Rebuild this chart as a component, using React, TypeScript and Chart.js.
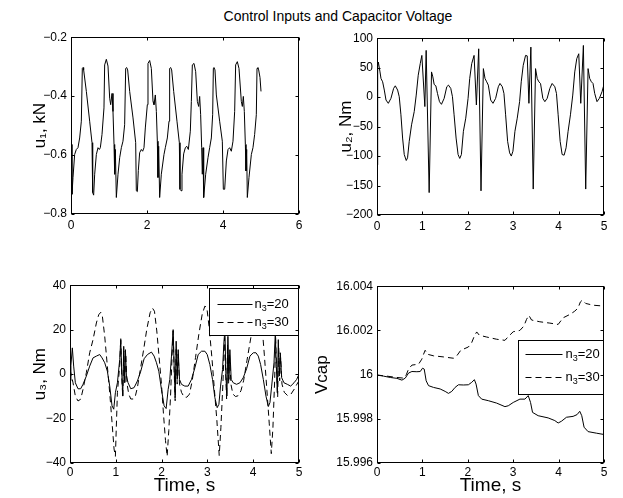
import React, { useEffect, useRef } from "react";
import { Chart, registerables } from "chart.js";

Chart.register(...registerables);

const FONT = '"Liberation Sans", Arial, Helvetica, sans-serif';

// ---------- u1 (kN) ----------
const u1Time = [
  0, 0.026, 0.053, 0.096, 0.14, 0.184, 0.228, 0.272, 0.298, 0.316,
  0.333, 0.404, 0.491, 0.553, 0.57, 0.596, 0.623, 0.667, 0.711, 0.746,
  0.772, 0.816, 0.868, 0.886, 0.93, 0.974, 1.018, 1.044, 1.079, 1.105,
  1.132, 1.149, 1.167, 1.193, 1.237, 1.281, 1.325, 1.368, 1.412, 1.439,
  1.465, 1.491, 1.544, 1.632, 1.702, 1.719, 1.746, 1.772, 1.807, 1.851,
  1.886, 1.921, 1.956, 2.009, 2.026, 2.07, 2.114, 2.158, 2.184, 2.219,
  2.246, 2.272, 2.289, 2.307, 2.333, 2.377, 2.447, 2.482, 2.535, 2.579,
  2.596, 2.623, 2.649, 2.702, 2.789, 2.851, 2.868, 2.895, 2.921, 2.965,
  3.009, 3.044, 3.088, 3.14, 3.167, 3.193, 3.237, 3.281, 3.325, 3.36,
  3.386, 3.412, 3.439, 3.456, 3.474, 3.491, 3.544, 3.605, 3.649, 3.693,
  3.728, 3.746, 3.763, 3.789, 3.825, 3.912, 3.982, 4.009, 4.044, 4.088,
  4.132, 4.175, 4.219, 4.263, 4.307, 4.333, 4.377, 4.421, 4.482, 4.509,
  4.535, 4.561, 4.588, 4.605, 4.623, 4.64, 4.684, 4.746, 4.789, 4.833,
  4.877, 4.895, 4.921, 4.939, 4.974, 5.0,
];
const u1Values = [
  -0.564, -0.733, -0.676, -0.598, -0.581, -0.575, -0.542, -0.485, -0.306, -0.303,
  -0.311, -0.384, -0.485, -0.558, -0.727, -0.736, -0.665, -0.598, -0.575, -0.581,
  -0.575, -0.53, -0.44, -0.294, -0.275, -0.298, -0.407, -0.429, -0.391, -0.452,
  -0.564, -0.665, -0.581, -0.744, -0.665, -0.609, -0.575, -0.553, -0.497, -0.306,
  -0.303, -0.311, -0.384, -0.474, -0.558, -0.721, -0.724, -0.652, -0.592, -0.581,
  -0.587, -0.575, -0.508, -0.429, -0.289, -0.279, -0.306, -0.418, -0.429, -0.396,
  -0.452, -0.553, -0.676, -0.57, -0.744, -0.665, -0.598, -0.575, -0.542, -0.485,
  -0.306, -0.303, -0.311, -0.384, -0.485, -0.558, -0.716, -0.721, -0.665, -0.596,
  -0.575, -0.57, -0.581, -0.519, -0.418, -0.294, -0.289, -0.317, -0.418, -0.435,
  -0.401, -0.463, -0.575, -0.665, -0.575, -0.744, -0.665, -0.609, -0.575, -0.542,
  -0.463, -0.306, -0.303, -0.311, -0.396, -0.485, -0.553, -0.716, -0.716, -0.62,
  -0.581, -0.575, -0.587, -0.553, -0.452, -0.294, -0.283, -0.306, -0.418, -0.435,
  -0.401, -0.452, -0.564, -0.654, -0.581, -0.744, -0.676, -0.598, -0.575, -0.53,
  -0.463, -0.306, -0.303, -0.311, -0.337, -0.384,
];

// ---------- u2 (Nm) ----------
const u2Time = [
  0, 0.015, 0.029, 0.066, 0.088, 0.124, 0.161, 0.198, 0.249, 0.307,
  0.366, 0.403, 0.454, 0.49, 0.527, 0.564, 0.6, 0.644, 0.673, 0.71,
  0.761, 0.82, 0.864, 0.908, 0.952, 0.988, 1.054, 1.083, 1.149, 1.201,
  1.23, 1.259, 1.296, 1.332, 1.376, 1.42, 1.479, 1.537, 1.574, 1.625,
  1.662, 1.698, 1.742, 1.786, 1.823, 1.859, 1.903, 1.955, 2.006, 2.042,
  2.086, 2.138, 2.189, 2.24, 2.291, 2.343, 2.379, 2.416, 2.452, 2.504,
  2.555, 2.613, 2.672, 2.709, 2.76, 2.796, 2.833, 2.877, 2.921, 2.958,
  2.994, 3.038, 3.089, 3.141, 3.177, 3.221, 3.272, 3.309, 3.346, 3.389,
  3.441, 3.492, 3.529, 3.565, 3.602, 3.653, 3.697, 3.748, 3.807, 3.858,
  3.917, 3.953, 3.99, 4.034, 4.078, 4.122, 4.165, 4.209, 4.261, 4.312,
  4.356, 4.4, 4.444, 4.488, 4.546, 4.597, 4.649, 4.685, 4.722, 4.758,
  4.795, 4.846, 4.898, 4.956, 5.0,
];
const u2Values = [
  -115, 51, 59.6, 42.8, 31.6, 26, 12, -4.9, -10.5, -2.1,
  14.8, 19.2, 12, 0.7, -30, -69.4, -97.4, -107.5, -103, -75,
  -47, -24.5, 3.5, 37.2, 56.8, 70.8, -16, 79.3, -162, 42.8,
  34.4, 21.5, 19.2, 6.3, -7.7, -12.2, -2.1, 17.6, 20.4, 14.8,
  0.7, -30, -69.4, -97.4, -104, -97.4, -58, -35.7, -2.1, 31.6,
  56.8, 70.8, -13.3, 82, -159, 48.4, 31.6, 26, 20.4, -4.9,
  -10.5, -2.1, 17.6, 23.2, 17.6, 6.3, -30, -75, -94.6, -100,
  -91.8, -58, -35.7, -7.7, 26, 54, 70.8, 70, -10.5, 84.9,
  -156, 48.4, 31.6, 26, 23.2, -2.1, -7.7, -2.1, 14.8, 23.2,
  17.6, 6.3, -30, -75, -97.4, -98.5, -86, -58, -30, 3.5,
  42.8, 65.2, 73.6, -10.5, 87.7, -156, 48.4, 31.6, 26, 23.2,
  6.3, -7.7, -2.1, 9.1, 21.5,
];

// ---------- u3 (Nm), n3 = 20 ----------
const u3Time20 = [
  0, 0.02, 0.051, 0.08, 0.117, 0.175, 0.233, 0.284, 0.357, 0.43,
  0.503, 0.576, 0.649, 0.7, 0.758, 0.816, 0.867, 0.918, 0.955, 0.991,
  1.035, 1.086, 1.108, 1.13, 1.152, 1.173, 1.195, 1.21, 1.232, 1.268,
  1.327, 1.399, 1.472, 1.545, 1.618, 1.691, 1.778, 1.837, 1.888, 1.939,
  1.997, 2.055, 2.099, 2.143, 2.179, 2.216, 2.252, 2.274, 2.296, 2.318,
  2.34, 2.362, 2.391, 2.434, 2.507, 2.58, 2.653, 2.726, 2.799, 2.872,
  2.945, 2.996, 3.054, 3.112, 3.163, 3.214, 3.251, 3.287, 3.331, 3.36,
  3.382, 3.404, 3.426, 3.448, 3.469, 3.491, 3.52, 3.564, 3.637, 3.71,
  3.783, 3.856, 3.929, 4.002, 4.06, 4.111, 4.162, 4.221, 4.279, 4.33,
  4.366, 4.403, 4.454, 4.483, 4.505, 4.527, 4.548, 4.57, 4.592, 4.621,
  4.672, 4.745, 4.818, 4.891, 4.949, 5.0,
];
const u3Values20 = [
  -3, 4, 11.8, 3.6, -3.9, -6.6, -6.6, -4.6, -0.9, 3.6,
  7.3, 8.1, 8.8, 7.3, 5.1, 1.3, -5.4, -14.3, -15.8, -8.4,
  -3.9, 6.6, 15.5, 0.6, -9.9, 12.5, -3.9, 11, -0.9, -3.9,
  -6.6, -6.1, -3.1, 1.3, 6.9, 8.8, 9.9, 8.1, 5.1, 1.3,
  -6.9, -14.3, -15.5, -6.9, -2.4, 8.1, 20, 3.6, -10.6, 14.8,
  -2.4, 11, -2.4, -4.6, -5.4, -5.4, -2.4, 2.8, 8.8, 10.3,
  10.3, 8.8, 4.3, -2.4, -10.6, -15.1, -13.6, -5.4, 2.1, 14,
  20, -0.9, -9.9, 17, -2.4, 11, -2.4, -3.9, -4.6, -3.9,
  -1.6, 2.4, 8.1, 9.6, 9.6, 8.1, 4.3, -2.4, -9.9, -14.6,
  -12.8, -5.4, 5.1, 18.5, 3.6, -8.4, 15.5, -0.9, 9.6, -1.6,
  -3.9, -4.6, -5.4, -3.9, -2.4, -0.1,
];

// ---------- u3 (Nm), n3 = 30 ----------
const u3Time30 = [
  0, 0.066, 0.117, 0.175, 0.233, 0.284, 0.357, 0.43, 0.503, 0.576,
  0.627, 0.671, 0.707, 0.758, 0.809, 0.867, 0.918, 0.962, 0.991, 1.035,
  1.086, 1.108, 1.13, 1.152, 1.173, 1.195, 1.217, 1.246, 1.283, 1.327,
  1.385, 1.429, 1.472, 1.531, 1.603, 1.676, 1.749, 1.8, 1.844, 1.895,
  1.946, 1.997, 2.041, 2.085, 2.121, 2.157, 2.194, 2.23, 2.252, 2.274,
  2.296, 2.318, 2.34, 2.362, 2.391, 2.434, 2.493, 2.551, 2.609, 2.668,
  2.741, 2.813, 2.886, 2.945, 2.988, 3.039, 3.098, 3.149, 3.207, 3.258,
  3.295, 3.338, 3.375, 3.397, 3.419, 3.44, 3.462, 3.484, 3.513, 3.557,
  3.615, 3.673, 3.732, 3.79, 3.863, 3.936, 4.009, 4.082, 4.133, 4.184,
  4.242, 4.3, 4.351, 4.395, 4.431, 4.468, 4.49, 4.512, 4.534, 4.556,
  4.578, 4.599, 4.628, 4.679, 4.752, 4.825, 4.898, 4.956, 5.0,
];
const u3Values30 = [
  2, -3.9, -9.9, -12.1, -11.3, -6.9, 0.6, 9.6, 15.5, 23,
  26.7, 27.8, 26, 17, 5.1, -8.4, -21.8, -33.7, -37, -8.4,
  4, 16.4, -1.5, -10.4, 10.4, -4.5, 9, -4.5, -9, -11.2,
  -11.2, -9.7, -6, 1.5, 10.4, 20.1, 27.6, 29.7, 28.3, 19.4,
  7.5, -4.5, -17.9, -29.9, -37, -25.4, -10.4, 9, 19.4, 1.5,
  -12, 12, -4.5, 9, -4.5, -8.2, -10.4, -10.4, -9, -3,
  7.5, 17.9, 26.9, 30.6, 29.9, 20.9, 7.5, -6, -20.9, -36.6,
  -23.9, -4.5, 16.4, 1.5, -11.2, 13.4, -4.5, 9, -4.5, -9,
  -10.1, -9.7, -7.5, -3, 6, 14.9, 23.9, 29.1, 29.9, 23.9,
  9, -7.5, -22.4, -35.8, -23.9, -3, 16.4, 1.5, -10.4, 12,
  -3, 7.5, -4.5, -8.2, -9.7, -9, -6.7, -4.5, -3,
];

// ---------- Vcap, n3 = 20 ----------
const vcapTime20 = [
  0, 0.146, 0.293, 0.439, 0.549, 0.622, 0.695, 0.769, 0.878, 0.952,
  1.003, 1.04, 1.083, 1.135, 1.245, 1.391, 1.501, 1.574, 1.647, 1.72,
  1.794, 1.903, 2.013, 2.086, 2.145, 2.182, 2.233, 2.306, 2.452, 2.635,
  2.818, 2.892, 3.001, 3.148, 3.258, 3.331, 3.382, 3.426, 3.55, 3.77,
  3.916, 3.99, 4.063, 4.173, 4.319, 4.407, 4.466, 4.51, 4.561, 4.649,
  4.832, 5.0,
];
const vcapValues20 = [
  15.99998, 15.99993, 15.99987, 15.99983, 15.99975, 15.99984, 16.00007, 16.00014, 16.00013, 16.00014,
  16.00029, 16.00025, 15.99972, 15.9995, 15.99942, 15.99935, 15.99924, 15.99915, 15.99924, 15.99942,
  15.99954, 15.99953, 15.99954, 15.99965, 15.99977, 15.99957, 15.99905, 15.99889, 15.99882, 15.99871,
  15.99855, 15.99859, 15.99874, 15.99889, 15.99889, 15.99905, 15.99874, 15.99829, 15.99814, 15.99804,
  15.99792, 15.99781, 15.99789, 15.99807, 15.99811, 15.99819, 15.99834, 15.99814, 15.99762, 15.99742,
  15.99735, 15.99729,
];

// ---------- Vcap, n3 = 30 ----------
const vcapTime30 = [
  0, 0.22, 0.439, 0.586, 0.644, 0.695, 0.769, 0.915, 0.988, 1.025,
  1.061, 1.113, 1.245, 1.464, 1.684, 1.757, 1.845, 2.013, 2.086, 2.145,
  2.196, 2.255, 2.416, 2.635, 2.818, 2.892, 3.001, 3.148, 3.236, 3.294,
  3.346, 3.404, 3.587, 3.807, 3.99, 4.1, 4.246, 4.356, 4.429, 4.48,
  4.524, 4.597, 4.758, 5.0,
];
const vcapValues30 = [
  15.99998, 15.99993, 15.99987, 15.99984, 15.99999, 16.00025, 16.00043, 16.00047, 16.0007, 16.00092,
  16.0011, 16.00092, 16.00085, 16.0008, 16.00074, 16.00085, 16.0011, 16.00125, 16.00145, 16.00175,
  16.00193, 16.00178, 16.0017, 16.0016, 16.00155, 16.00172, 16.00194, 16.002, 16.0022, 16.0025,
  16.00268, 16.00247, 16.00239, 16.00233, 16.00227, 16.00257, 16.00272, 16.00287, 16.00302, 16.00329,
  16.00337, 16.00322, 16.00314, 16.0031,
];

// ---------- ticks & labels ----------
const xTicks6 = [0, 2, 4, 6];
const xTickLabels6 = ["0", "2", "4", "6"];
const xTicks5 = [0, 1, 2, 3, 4, 5];
const xTickLabels5 = ["0", "1", "2", "3", "4", "5"];
const u1Ticks = [-0.8, -0.6, -0.4, -0.2];
const u1TickLabels = ["\u22120.8", "\u22120.6", "\u22120.4", "\u22120.2"];
const u2Ticks = [-200, -150, -100, -50, 0, 50, 100];
const u2TickLabels = ["\u2212200", "\u2212150", "\u2212100", "\u221250", "0", "50", "100"];
const u3Ticks = [-40, -20, 0, 20, 40];
const u3TickLabels = ["\u221240", "\u221220", "0", "20", "40"];
const vcapTicks = [15.996, 15.998, 16, 16.002, 16.004];
const vcapTickLabels = ["15.996", "15.998", "16", "16.002", "16.004"];
const legendLabels = ["n\u2083=20", "n\u2083=30"];

const chartTitle = "Control Inputs and Capacitor Voltage";
const xTitle = "Time, s";

const SUB = "\u2080\u2081\u2082\u2083\u2084\u2085\u2086\u2087\u2088\u2089";

function drawRich(ctx: CanvasRenderingContext2D, text: string, x: number, y: number, size: number) {
  let cx = x;
  let buf = "";
  const flush = () => {
    if (!buf) return;
    ctx.font = `${size}px ${FONT}`;
    ctx.fillText(buf, cx, y);
    cx += ctx.measureText(buf).width;
    buf = "";
  };
  for (const ch of text) {
    const k = SUB.indexOf(ch);
    if (k >= 0) {
      flush();
      const s = String(k);
      ctx.font = `${Math.round(size * 0.72)}px ${FONT}`;
      ctx.fillText(s, cx, y + size * 0.3);
      cx += ctx.measureText(s).width;
    } else {
      buf += ch;
    }
  }
  flush();
}

type LegendSpec = {
  left: number; top: number; width: number; height: number;
  rows: number[]; sample: [number, number]; textX: number; fontSize: number;
};

function makeFramePlugin(legend?: LegendSpec) {
  return {
    id: "matlabFrame",
    afterDatasetsDraw(chart: any) {
      const { ctx, chartArea: a } = chart;
      const L = Math.round(a.left) + 0.5;
      const T = Math.round(a.top) + 0.5;
      const R = Math.round(a.right) - 0.5;
      const B = Math.round(a.bottom) - 0.5;
      ctx.save();
      if (legend) {
        const x0 = Math.round(a.left + legend.left) + 0.5;
        const y0 = Math.round(a.top + legend.top) + 0.5;
        ctx.fillStyle = "#fff";
        ctx.fillRect(x0, y0, legend.width, legend.height);
        ctx.setLineDash([]);
        ctx.strokeStyle = "#000";
        ctx.lineWidth = 1;
        ctx.strokeRect(x0, y0, legend.width, legend.height);
        chart.data.datasets.forEach((ds: any, i: number) => {
          const ry = Math.round(y0 + legend.rows[i]) + 0.5;
          ctx.beginPath();
          ctx.setLineDash(ds.borderDash || []);
          ctx.strokeStyle = ds.borderColor;
          ctx.lineWidth = ds.borderWidth;
          ctx.moveTo(x0 + legend.sample[0], ry);
          ctx.lineTo(x0 + legend.sample[1], ry);
          ctx.stroke();
          ctx.setLineDash([]);
          ctx.fillStyle = "#000";
          ctx.textBaseline = "middle";
          ctx.textAlign = "left";
          drawRich(ctx, ds.label, x0 + legend.textX, ry, legend.fontSize);
        });
      }
      ctx.setLineDash([]);
      ctx.strokeStyle = "#000";
      ctx.lineWidth = 1;
      ctx.strokeRect(L, T, R - L, B - T);
      const tl = 3;
      const xs = chart.scales.x;
      const ys = chart.scales.y;
      ctx.beginPath();
      xs.ticks.forEach((t: any) => {
        const p = Math.round(xs.getPixelForValue(t.value)) + 0.5;
        ctx.moveTo(p, B); ctx.lineTo(p, B - tl);
        ctx.moveTo(p, T); ctx.lineTo(p, T + tl);
      });
      ys.ticks.forEach((t: any) => {
        const p = Math.round(ys.getPixelForValue(t.value)) + 0.5;
        ctx.moveTo(L, p); ctx.lineTo(L + tl, p);
        ctx.moveTo(R, p); ctx.lineTo(R - tl, p);
      });
      ctx.stroke();
      ctx.restore();
    },
  };
}

type SeriesSpec = { label: string; time: number[]; values: number[]; dash: number[] };
type PanelSpec = {
  left: number; top: number; w: number; h: number;
  padRight: number; yWidth: number; xHeight: number;
  xMin: number; xMax: number; xTicks: number[]; xTickLabels: string[]; xTickPad: number;
  yMin: number; yMax: number; yTicks: number[]; yTickLabels: string[];
  yTitle: string; yTitlePad: number; xTitle?: string;
  series: SeriesSpec[]; legend?: LegendSpec;
};

function makeConfig(p: PanelSpec): any {
  return {
    type: "line",
    data: {
      datasets: p.series.map((s) => ({
        label: s.label,
        data: s.time.map((t, i) => ({ x: t, y: s.values[i] })),
        borderColor: "#000",
        borderWidth: 1,
        borderDash: s.dash,
        pointRadius: 0,
        tension: 0,
        fill: false,
      })),
    },
    options: {
      responsive: false,
      animation: false,
      devicePixelRatio: 1,
      layout: { padding: { top: 10, right: p.padRight, left: 0, bottom: 0 } },
      plugins: { legend: { display: false }, tooltip: { enabled: false } },
      scales: {
        x: {
          type: "linear",
          min: p.xMin,
          max: p.xMax,
          grid: { display: false, drawTicks: false },
          border: { display: false },
          afterBuildTicks: (s: any) => { s.ticks = p.xTicks.map((v) => ({ value: v })); },
          afterFit: (s: any) => { s.height = p.xHeight; },
          ticks: {
            autoSkip: false,
            maxRotation: 0,
            padding: p.xTickPad,
            color: "#000",
            font: { family: FONT, size: 12 },
            callback: (v: number) => p.xTickLabels[p.xTicks.indexOf(v)],
          },
          title: p.xTitle
            ? { display: true, text: p.xTitle, color: "#000", font: { family: FONT, size: 19 }, padding: { top: 0, bottom: 1 } }
            : { display: false },
        },
        y: {
          type: "linear",
          min: p.yMin,
          max: p.yMax,
          grid: { display: false, drawTicks: false },
          border: { display: false },
          afterBuildTicks: (s: any) => { s.ticks = p.yTicks.map((v) => ({ value: v })); },
          afterFit: (s: any) => { s.width = p.yWidth; },
          ticks: {
            autoSkip: false,
            padding: 4,
            color: "#000",
            font: { family: FONT, size: 12 },
            callback: (v: number) => p.yTickLabels[p.yTicks.indexOf(v)],
          },
          title: { display: true, text: p.yTitle, color: "#000", font: { family: FONT, size: 17 }, padding: { top: p.yTitlePad, bottom: 0 } },
        },
      },
    },
    plugins: [makeFramePlugin(p.legend)],
  };
}

const panels: PanelSpec[] = [
  {
    left: 0, top: 26, w: 311, h: 220, padRight: 12, yWidth: 71, xHeight: 32,
    xMin: 0, xMax: 6, xTicks: xTicks6, xTickLabels: xTickLabels6, xTickPad: 4,
    yMin: -0.8, yMax: -0.2, yTicks: u1Ticks, yTickLabels: u1TickLabels,
    yTitle: "u\u2081, kN", yTitlePad: 30,
    series: [{ label: "u1", time: u1Time, values: u1Values, dash: [] }],
  },
  {
    left: 306, top: 27, w: 317, h: 220, padRight: 19, yWidth: 71, xHeight: 32,
    xMin: 0, xMax: 5, xTicks: xTicks5, xTickLabels: xTickLabels5, xTickPad: 4,
    yMin: -200, yMax: 100, yTicks: u2Ticks, yTickLabels: u2TickLabels,
    yTitle: "u\u2082, Nm", yTitlePad: 30,
    series: [{ label: "u2", time: u2Time, values: u2Values, dash: [] }],
  },
  {
    left: 0, top: 274, w: 311, h: 224, padRight: 12, yWidth: 70, xHeight: 35,
    xMin: 0, xMax: 5, xTicks: xTicks5, xTickLabels: xTickLabels5, xTickPad: 2,
    yMin: -40, yMax: 40, yTicks: u3Ticks, yTickLabels: u3TickLabels,
    yTitle: "u\u2083, Nm", yTitlePad: 30, xTitle,
    series: [
      { label: legendLabels[0], time: u3Time20, values: u3Values20, dash: [] },
      { label: legendLabels[1], time: u3Time30, values: u3Values30, dash: [6, 4] },
    ],
    legend: { left: 139, top: 3, width: 89, height: 47, rows: [15, 33], sample: [8, 43], textX: 45, fontSize: 13 },
  },
  {
    left: 306, top: 275, w: 317, h: 223, padRight: 19, yWidth: 71, xHeight: 35,
    xMin: 0, xMax: 5, xTicks: xTicks5, xTickLabels: xTickLabels5, xTickPad: 2,
    yMin: 15.996, yMax: 16.004, yTicks: vcapTicks, yTickLabels: vcapTickLabels,
    yTitle: "Vcap", yTitlePad: 6, xTitle,
    series: [
      { label: legendLabels[0], time: vcapTime20, values: vcapValues20, dash: [] },
      { label: legendLabels[1], time: vcapTime30, values: vcapValues30, dash: [6, 4] },
    ],
    legend: { left: 141, top: 54, width: 85, height: 54, rows: [13, 36], sample: [7, 44], textX: 47, fontSize: 13 },
  },
];

function Panel({ spec }: { spec: PanelSpec }) {
  const ref = useRef<HTMLCanvasElement | null>(null);
  useEffect(() => {
    if (!ref.current) return;
    const chart = new Chart(ref.current, makeConfig(spec));
    return () => chart.destroy();
  }, [spec]);
  return (
    <canvas
      ref={ref}
      width={spec.w}
      height={spec.h}
      style={{ position: "absolute", left: spec.left, top: spec.top, width: spec.w, height: spec.h }}
    />
  );
}

export default function App() {
  return (
    <div
      style={{
        position: "fixed", left: 0, top: 0, width: 623, height: 498,
        background: "#fff", overflow: "hidden",
      }}
    >
      <div
        style={{
          position: "absolute", left: 200, top: 8, width: 276, textAlign: "center",
          font: `14px ${FONT}`, lineHeight: "17px", color: "#000", whiteSpace: "nowrap",
        }}
      >
        {chartTitle}
      </div>
      {panels.map((p, i) => (
        <Panel key={i} spec={p} />
      ))}
    </div>
  );
}
